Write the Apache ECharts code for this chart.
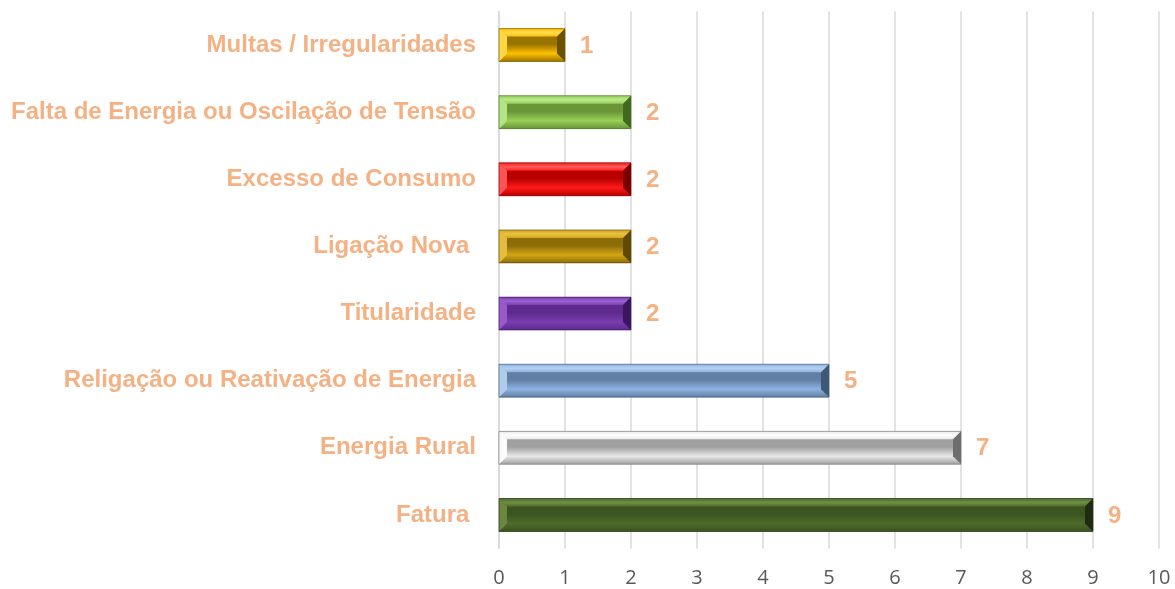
<!DOCTYPE html>
<html>
<head>
<meta charset="utf-8">
<script src="https://cdn.jsdelivr.net/npm/echarts@6/dist/echarts.min.js"></script>
<style>
  html, body { margin: 0; padding: 0; background: #fff; }
  #chart { width: 1175px; height: 589px; }
</style>
</head>
<body>
<div id="chart"></div>
<script>
// categories from top to bottom, as in the picture
var categories = [
  "Multas / Irregularidades",
  "Falta de Energia ou Oscilação de Tensão",
  "Excesso de Consumo",
  "Ligação Nova ",
  "Titularidade",
  "Religação ou Reativação de Energia",
  "Energia Rural",
  "Fatura "
];
var values = [1, 2, 2, 2, 2, 5, 7, 9];
var xTicks = [0, 1, 2, 3, 4, 5, 6, 7, 8, 9, 10];

// bevel colours per bar: base, light (top bevel), dark (right / shadow), mid (inner groove)
var palette = [
  ["#FFC000", "#FFDD55", "#6B5000", "#9A7400"],
  ["#96D055", "#BCE88F", "#43681E", "#6A9638"],
  ["#FF1A1A", "#FF6060", "#7A0000", "#B80000"],
  ["#D4A514", "#E8C24A", "#5F4800", "#8C6D08"],
  ["#7A3DB0", "#9D63CF", "#3A1560", "#5E2A8C"],
  ["#8DB3E2", "#B8D1F0", "#3F5878", "#627EA2"],
  ["#E8E8E8", "#FFFFFF", "#6E6E6E", "#A0A0A0"],
  ["#4F6B2A", "#6F8F45", "#1F2B10", "#3B5520"]
];

var labelColor = "#F4B183";
var labelFont = "'Liberation Sans', Arial, sans-serif";

var chartDom = document.getElementById("chart");
var myChart = echarts.init(chartDom);

function renderItem(params, api) {
  var i = params.dataIndex;
  var c = palette[i];
  var cat = api.value(1);
  var v = api.value(0);
  var p0 = api.coord([0, cat]);
  var p1 = api.coord([v, cat]);
  var h = api.size([0, 1])[1] * 0.49;
  var x0 = p0[0], x1 = p1[0];
  var y0 = p0[1] - h / 2, y1 = p0[1] + h / 2;
  var b = 8; // bevel size

  return {
    type: "group",
    children: [
      { type: "rect", shape: { x: x0, y: y0, width: x1 - x0, height: y1 - y0 }, style: { fill: c[0] } },
      // top bevel
      { type: "polygon", shape: { points: [[x0, y0], [x1, y0], [x1 - b, y0 + b], [x0 + b, y0 + b]] },
        style: { fill: new echarts.graphic.LinearGradient(0, 0, 0, 1, [{ offset: 0, color: c[0] }, { offset: 0.5, color: c[1] }, { offset: 1, color: c[0] }]) } },
      // bottom bevel
      { type: "polygon", shape: { points: [[x0, y1], [x1, y1], [x1 - b, y1 - b], [x0 + b, y1 - b]] },
        style: { fill: new echarts.graphic.LinearGradient(0, 0, 0, 1, [{ offset: 0, color: c[0] }, { offset: 1, color: c[3] }]) } },
      // left bevel
      { type: "polygon", shape: { points: [[x0, y0], [x0 + b, y0 + b], [x0 + b, y1 - b], [x0, y1]] },
        style: { fill: c[1], opacity: 0.8 } },
      // right bevel
      { type: "polygon", shape: { points: [[x1, y0], [x1 - b, y0 + b], [x1 - b, y1 - b], [x1, y1]] },
        style: { fill: c[2] } },
      // inner groove
      { type: "rect", shape: { x: x0 + b, y: y0 + b, width: x1 - x0 - 2 * b, height: y1 - y0 - 2 * b },
        style: { fill: new echarts.graphic.LinearGradient(0, 0, 0, 1, [{ offset: 0, color: c[3] }, { offset: 0.45, color: c[3] }, { offset: 1, color: c[0] }]) } },
      // outline
      { type: "rect", shape: { x: x0, y: y0, width: x1 - x0, height: y1 - y0 },
        style: { fill: null, stroke: c[2], lineWidth: 1, opacity: 0.6 } },
      // value label
      { type: "text", x: x1 + 15, y: p0[1] + 1,
        style: { text: String(v), fill: labelColor, fontFamily: labelFont, fontSize: 24, fontWeight: "bold", verticalAlign: "middle", align: "left" } }
    ]
  };
}

var option = {
  animation: false,
  grid: {
    left: 499,
    right: 16,
    top: 11.5,
    bottom: 40.5,
    containLabel: false
  },
  xAxis: {
    type: "value",
    min: 0,
    max: 10,
    interval: 1,
    axisLine: { show: false },
    axisTick: { show: false },
    splitLine: { show: true, lineStyle: { color: "#D9D9D9", width: 1.5 } },
    axisLabel: {
      color: "#595959",
      fontSize: 20,
      fontFamily: "Open Sans",
      margin: 20,
      formatter: function (v) { return xTicks.indexOf(v) >= 0 ? String(v) : ""; }
    }
  },
  yAxis: {
    type: "category",
    data: categories,
    inverse: true,
    axisLine: { show: true, lineStyle: { color: "#D9D9D9", width: 1.5 } },
    axisTick: { show: false },
    axisLabel: {
      color: labelColor,
      fontSize: 24,
      fontWeight: "bold",
      fontFamily: labelFont,
      margin: 23
    }
  },
  series: [
    {
      type: "custom",
      renderItem: renderItem,
      encode: { x: 0, y: 1 },
      data: values.map(function (v, i) { return [v, categories[i]]; })
    }
  ]
};

myChart.setOption(option);
</script>
</body>
</html>
